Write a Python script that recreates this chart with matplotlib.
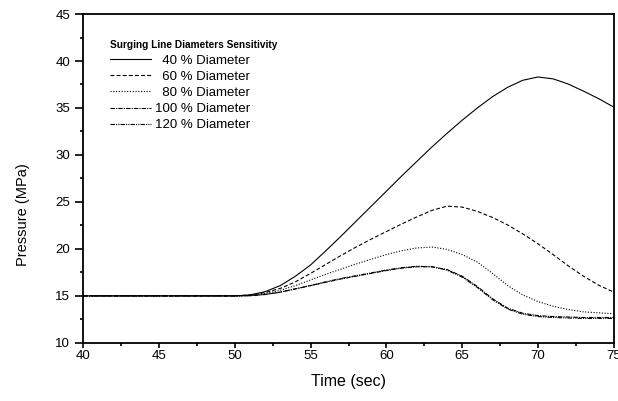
import matplotlib
matplotlib.use("Agg")
import matplotlib.pyplot as plt
from matplotlib.ticker import MultipleLocator

plt.rcParams['font.family'] = ['Liberation Sans', 'DejaVu Sans']

time = [40, 45, 50, 51, 52, 53, 54, 55, 56, 57, 58, 59, 60, 61, 62, 63, 64, 65,
        66, 67, 68, 69, 70, 71, 72, 73, 74, 75]
d40 = [15.0, 15.0, 15.0, 15.1, 15.45, 16.1, 17.1, 18.3, 19.8, 21.35, 22.95, 24.55, 26.15, 27.75,
       29.3, 30.85, 32.3, 33.7, 35.0, 36.2, 37.2, 37.95, 38.3, 38.1, 37.55, 36.8, 36.0, 35.1]
d60 = [15.0, 15.0, 15.0, 15.1, 15.35, 15.8, 16.5, 17.4, 18.35, 19.3, 20.2, 21.05, 21.85, 22.65,
       23.4, 24.1, 24.55, 24.45, 24.0, 23.35, 22.55, 21.6, 20.55, 19.4, 18.2, 17.1, 16.15, 15.4]
d80 = [15.0, 15.0, 15.0, 15.05, 15.25, 15.6, 16.1, 16.7, 17.3, 17.85, 18.4, 18.9, 19.4, 19.8,
       20.1, 20.2, 19.95, 19.4, 18.6, 17.4, 16.1, 15.1, 14.4, 13.9, 13.55, 13.3, 13.2, 13.1]
d100 = [15.0, 15.0, 15.0, 15.02, 15.15, 15.4, 15.75, 16.1, 16.45, 16.8, 17.1, 17.4, 17.7, 17.95,
        18.1, 18.1, 17.8, 17.1, 16.0, 14.7, 13.7, 13.15, 12.9, 12.8, 12.75, 12.7, 12.7, 12.7]
d120 = [15.0, 15.0, 15.0, 15.02, 15.15, 15.4, 15.75, 16.1, 16.5, 16.85, 17.15, 17.45, 17.75, 18.0,
        18.15, 18.1, 17.75, 17.0, 15.9, 14.6, 13.6, 13.05, 12.8, 12.7, 12.65, 12.6, 12.6, 12.6]

labels = ["  40 % Diameter", "  60 % Diameter", "  80 % Diameter",
          "100 % Diameter", "120 % Diameter"]
styles = ['-', (0, (3.5, 2)), (0, (1, 1.5)), (0, (4, 1, 1, 1)), (0, (4, 1, 1, 1, 1, 1))]
series = [d40, d60, d80, d100, d120]

fig = plt.figure(figsize=(6.18, 4.01), dpi=100)
ax = fig.add_axes([0.135, 0.145, 0.858, 0.82])

for y, lab, ls in zip(series, labels, styles):
    ax.plot(time, y, color='black', linestyle=ls, linewidth=0.8, label=lab)

ax.set_xlim(40, 75)
ax.set_ylim(10, 45)
ax.xaxis.set_major_locator(MultipleLocator(5))
ax.xaxis.set_minor_locator(MultipleLocator(2.5))
ax.yaxis.set_major_locator(MultipleLocator(5))
ax.yaxis.set_minor_locator(MultipleLocator(2.5))
ax.tick_params(axis='x', which='major', direction='out', length=3.5, width=1.2, labelsize=9.5, pad=1.5)
ax.tick_params(axis='x', which='minor', direction='out', length=2.5, width=1.2)
ax.tick_params(axis='y', which='major', direction='out', length=5.5, width=1.2, labelsize=9.5, pad=4)
ax.tick_params(axis='y', which='minor', direction='out', length=2.5, width=1.2)
for s in ax.spines.values():
    s.set_linewidth(1.3)

ax.set_xlabel("Time (sec)", fontsize=11.5)
ax.xaxis.set_label_coords(0.5, -0.095)
ax.set_ylabel("Pressure (MPa)", fontsize=10.5)
ax.yaxis.set_label_coords(-0.1, 0.39)

leg = ax.legend(loc='upper left', bbox_to_anchor=(0.051, 0.92), frameon=False,
                title="Surging Line Diameters Sensitivity", fontsize=9.5,
                title_fontproperties={'weight': 'bold', 'size': 7.3},
                handlelength=3.1, handletextpad=0.3, labelspacing=0.3,
                alignment='left', borderaxespad=0, borderpad=0)

fig.savefig("out.png", dpi=100)
